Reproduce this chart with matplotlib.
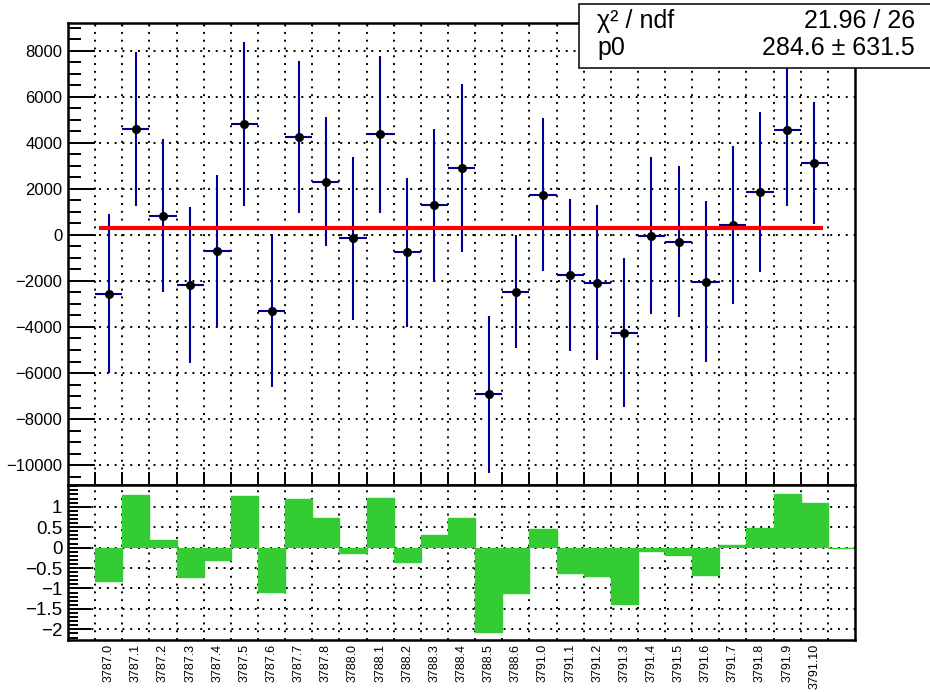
import numpy as np
import matplotlib
matplotlib.use("Agg")
import matplotlib.pyplot as plt
from matplotlib.patches import Rectangle
from matplotlib.ticker import MultipleLocator

plt.rcParams["font.family"] = ["Liberation Sans", "DejaVu Sans"]

# ---- data ----
run_labels = ["3787.0", "3787.1", "3787.2", "3787.3", "3787.4", "3787.5", "3787.6",
              "3787.7", "3787.8", "3788.0", "3788.1", "3788.2", "3788.3", "3788.4",
              "3788.5", "3788.6", "3791.0", "3791.1", "3791.2", "3791.3", "3791.4",
              "3791.5", "3791.6", "3791.7", "3791.8", "3791.9", "3791.10"]
values = [-2550, 4610, 840, -2170, -700, 4810, -3300, 4270, 2310, -150, 4380, -760,
          1290, 2930, -6930, -2460, 1760, -1750, -2070, -4250, -30, -300, -2040,
          440, 1870, 4570, 3140]
errors = [3450, 3350, 3330, 3400, 3290, 3560, 3330, 3310, 2810, 3550, 3410, 3250,
          3330, 3650, 3410, 2450, 3330, 3300, 3370, 3230, 3410, 3280, 3500, 3430,
          3480, 3300, 2660]
pulls = [-0.82, 1.29, 0.18, -0.72, -0.31, 1.27, -1.08, 1.19, 0.73, -0.14, 1.21,
         -0.34, 0.32, 0.73, -2.07, -1.11, 0.46, -0.61, -0.70, -1.38, -0.09, -0.17,
         -0.66, 0.06, 0.48, 1.31, 1.10, 0.0]
pull_ticks = [1, 0.5, 0, -0.5, -1, -1.5, -2]

fit_p0 = 284.6
fit_p0_err = 631.5
chi2, ndf = 21.96, 26
fit_range = [1.14, 27.82]

n_bins = 29
centers = np.arange(1, len(run_labels) + 1) + 0.5
edges = np.arange(1, n_bins)

blue = "#000099"
green = "#33cc33"
grid_style = dict(color="black", linestyle=(0, (1, 3)), linewidth=1.4)

fig = plt.figure(figsize=(9.3, 6.92), dpi=100)
ax = fig.add_axes([0.0731, 0.2991, 0.8463, 0.6677])
axr = fig.add_axes([0.0731, 0.0751, 0.8463, 0.2240])

# ---- upper pad ----
ax.errorbar(centers, values, yerr=errors, xerr=0.5, fmt="o", color=blue,
            ecolor=blue, elinewidth=1.5, capsize=0, markersize=5.5,
            markerfacecolor="black", markeredgecolor="black", zorder=3)
ax.plot(fit_range, [fit_p0, fit_p0], color="red", lw=3.0, zorder=4,
        solid_capstyle="butt")

ax.set_xlim(0, n_bins)
ax.set_ylim(-10870, 9217)
ax.set_xticks(edges)
ax.yaxis.set_major_locator(MultipleLocator(2000))
ax.yaxis.set_minor_locator(MultipleLocator(500))
ax.tick_params(axis="x", which="major", direction="in", length=9.5, width=1.4,
               labelbottom=False)
ax.tick_params(axis="y", which="major", direction="in", length=19.5, width=1.4,
               labelsize=12, pad=4)
ax.tick_params(axis="y", which="minor", direction="in", length=9.5, width=1.4)
ax.grid(True, which="major", **grid_style)
top = ax.secondary_xaxis("top")
top.set_xticks(edges)
top.tick_params(direction="in", length=2.5, width=1.0, labeltop=False)
top.spines["top"].set_visible(False)

# ---- lower pad (pulls) ----
axr.stairs(pulls, np.arange(1, n_bins + 1), baseline=0, fill=True, color=green,
           lw=0, zorder=2)
axr.stairs(pulls, np.arange(1, n_bins + 1), baseline=0, color=green, lw=1.0,
           zorder=2)
axr.set_xlim(0, n_bins)
axr.set_ylim(-2.26, 1.53)
axr.set_xticks(edges)
axr.set_xticks(centers, run_labels, minor=True)
axr.tick_params(axis="x", which="major", length=0, labelbottom=False)
axr.tick_params(axis="x", which="minor", length=0, labelsize=9,
                labelrotation=90, pad=3)
axr.yaxis.set_minor_locator(MultipleLocator(0.1))
axr.set_yticks(pull_ticks, [f"{t:g}".replace("-", "\u2212") for t in pull_ticks])
axr.tick_params(axis="y", which="major", direction="in", length=16.5, width=1.4,
                labelsize=13.5, pad=4)
axr.tick_params(axis="y", which="minor", direction="in", length=7, width=1.4)
axr.grid(True, which="major", **grid_style)

for a in (ax, axr):
    for s in a.spines.values():
        s.set_linewidth(1.8)
    a.set_axisbelow(True)

# ---- fit statistics box ----
fig.patches.append(Rectangle((0.6226, 0.9017), 0.40, 0.0923,
                             transform=fig.transFigure, facecolor="white",
                             edgecolor="black", lw=1.1, zorder=5))
fig.text(0.642, 0.969, "χ² / ndf", fontsize=18, ha="left", va="center", zorder=6)
fig.text(0.984, 0.969, f"{chi2:.2f} / {ndf}", fontsize=18, ha="right",
         va="center", zorder=6)
fig.text(0.642, 0.931, "p0", fontsize=18, ha="left", va="center", zorder=6)
fig.text(0.984, 0.931, f"{fit_p0:.1f} ± {fit_p0_err:.1f}", fontsize=18,
         ha="right", va="center", zorder=6)

fig.savefig("out.png", dpi=100, facecolor="white")
